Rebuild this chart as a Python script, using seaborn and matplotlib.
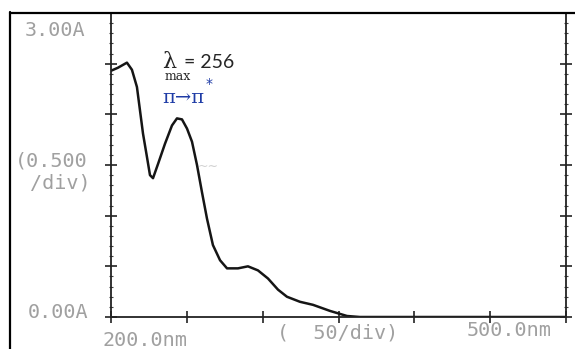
import matplotlib
matplotlib.use('Agg')
import matplotlib.pyplot as plt
import seaborn as sns
from matplotlib.lines import Line2D
from matplotlib.ticker import MultipleLocator

# spectrum (nm, absorbance)
wavelength = [200, 204.6, 210.5, 213.8, 217.1, 219.1, 221.1, 223.7, 225.7, 227.7,
              231.0, 235.6, 240.2, 243.5, 246.8, 250.1, 253.4, 256.7, 260.0, 263.3,
              267.2, 271.9, 276.5, 283.7, 290.3, 296.9, 303.5, 310.1, 316.0, 324.6,
              333.2, 344.4, 355.6, 364.1, 380, 420, 460, 500]
absorbance = [2.43, 2.46, 2.51, 2.44, 2.27, 2.04, 1.81, 1.58, 1.40, 1.37,
              1.51, 1.71, 1.89, 1.96, 1.95, 1.86, 1.73, 1.50, 1.23, 0.97,
              0.71, 0.56, 0.48, 0.48, 0.50, 0.46, 0.38, 0.27, 0.20, 0.15,
              0.12, 0.06, 0.01, 0.0, 0.0, 0.0, 0.0, 0.0]

y_labels = ['3.00A', '(0.500', '/div)', '0.00A']
x_labels = ['200.0nm', '(  50/div)', '500.0nm']
lambda_max = 256
transition = 'π→π'

sns.set_style('white')

W, H = 575, 349
fig = plt.figure(figsize=(W / 100, H / 100), dpi=100)


def px(x, y):
    return x / W, 1 - y / H


ax = fig.add_axes([111 / W, 1 - 317 / H, 455 / W, 304 / H])
sns.lineplot(x=wavelength, y=absorbance, ax=ax, color='#151515', linewidth=1.8,
             solid_joinstyle='round', solid_capstyle='round')

ax.set_xlim(200, 500)
ax.set_ylim(0, 3)
ax.xaxis.set_major_locator(MultipleLocator(50))
ax.yaxis.set_major_locator(MultipleLocator(0.5))
ax.yaxis.set_minor_locator(MultipleLocator(0.1))
ax.tick_params(which='major', direction='inout', length=8, width=1.2, color='#222222',
               left=True, right=True, bottom=True, labelleft=False, labelbottom=False)
ax.tick_params(which='minor', direction='inout', length=3, width=0.8, color='#444444',
               left=True, right=True)
for s in ax.spines.values():
    s.set_color('#222222')
    s.set_linewidth(1.3)
ax.set_xlabel('')
ax.set_ylabel('')

# outer frame of the scan
fig.add_artist(Line2D([10 / W, 10 / W], [0, 1 - 12 / H], transform=fig.transFigure,
                      color='black', lw=1.6))
fig.add_artist(Line2D([10 / W, 1], [1 - 12.5 / H, 1 - 12.5 / H], transform=fig.transFigure,
                      color='black', lw=1.6))

# printer labels
gray = '#a0a0a0'
mono = dict(family='DejaVu Sans Mono', size=14.5, color=gray, va='center', ha='left')
fig.text(*px(25, 31), y_labels[0], **mono)
fig.text(*px(15, 161), y_labels[1], **mono)
fig.text(*px(30, 183), y_labels[2], **mono)
fig.text(*px(28, 312), y_labels[3], **mono)
fig.text(*px(103, 340), x_labels[0], **mono)
fig.text(*px(277, 333), x_labels[1], **mono)
fig.text(*px(467, 331), x_labels[2], **mono)

# faint scribble on the scan
fig.text(*px(198, 166), '~∼', family='DejaVu Sans', size=9, color='#d0d0d0', va='center')

# lambda max annotation
fig.text(*px(162, 62), 'λ', family='DejaVu Serif', size=16, va='center')
fig.text(*px(184, 62), f'= {lambda_max}', family='Lato', size=14, va='center')
fig.text(*px(165, 77), 'max', family='DejaVu Serif', size=9, va='center')
fig.text(*px(162, 98), transition, family='DejaVu Serif', size=14, color='#1f3ca6',
         va='center')
fig.text(*px(206, 84), '*', family='DejaVu Sans', size=10, color='#1f3ca6', va='center')

fig.savefig('out.png', dpi=100)
